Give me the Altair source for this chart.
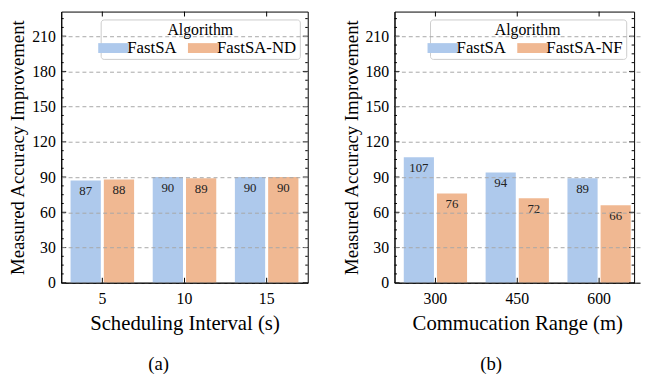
import altair as alt
import pandas as pd
import numpy as np

# ---- data ----
left_categories = ["5", "10", "15"]
left_fastsa = [87, 90, 90]
left_fastsa_nd = [88, 89, 90]
left_names = ["FastSA", "FastSA-ND"]

right_categories = ["300", "450", "600"]
right_fastsa = [107, 94, 89]
right_fastsa_nf = [76, 72, 66]
right_names = ["FastSA", "FastSA-NF"]

y_major = [0, 30, 60, 90, 120, 150, 180, 210]
y_minor = [float(v) for v in np.arange(0, 231, 7.5) if v % 30 != 0]

FONT = "Liberation Serif"
BLUE = "#aec9ec"
ORANGE = "#f0b892"
H = 275


def panel(cats, a, b, names, xtitle, sub, width, xrange):
    df = pd.DataFrame({
        "cat": cats * 2,
        "algo": [names[0]] * len(cats) + [names[1]] * len(cats),
        "value": a + b,
    })
    xenc = alt.X("cat:N", sort=cats,
                 scale=alt.Scale(paddingInner=0, paddingOuter=0, range=[0, xrange]),
                 axis=alt.Axis(title=xtitle, labelAngle=0, tickSize=0, labelPadding=8,
                               domain=True, domainColor="black", domainWidth=1,
                               titlePadding=6, zindex=1, labelFont=FONT, titleFont=FONT,
                               labelFontSize=16, titleFontSize=21, titleFontWeight="normal"))
    yenc = alt.Y("value:Q",
                 scale=alt.Scale(domain=[0, 231], nice=False, zero=True),
                 axis=alt.Axis(title="Measured Accuracy Improvement", values=y_major,
                               labelOverlap=False,
                               grid=True, gridDash=[4, 3], gridColor="#a8a8a8", gridWidth=1,
                               tickSize=0, labelPadding=6, domain=True, domainColor="black",
                               domainWidth=1, titlePadding=4, zindex=1, labelFont=FONT,
                               titleFont=FONT, labelFontSize=16, titleFontSize=19,
                               titleFontWeight="normal"))
    xoff = alt.XOffset("algo:N", sort=names,
                       scale=alt.Scale(domain=names, paddingInner=0.09, paddingOuter=0.28))
    bars = alt.Chart(df).mark_bar().encode(
        x=xenc, xOffset=xoff, y=yenc,
        color=alt.Color("algo:N", sort=names,
                        scale=alt.Scale(domain=names, range=[BLUE, ORANGE]),
                        legend=alt.Legend(title="Algorithm", orient="top-right", offset=8,
                                          direction="horizontal", titleAnchor="middle",
                                          symbolType="M-1.55,-0.5H1.55V0.5H-1.55Z",
                                          symbolSize=400, symbolStrokeWidth=0,
                                          symbolOpacity=1,
                                          fillColor="white", strokeColor="#cccccc",
                                          cornerRadius=3, padding=3, columnPadding=10,
                                          labelOffset=4, titlePadding=0,
                                          labelFont=FONT, titleFont=FONT,
                                          labelFontSize=17, titleFontSize=16,
                                          titleFontWeight="normal")),
    )
    labels = alt.Chart(df).mark_text(baseline="top", dy=5, font=FONT, fontSize=13,
                                     color="#222222").encode(
        x=xenc, xOffset=xoff, y=yenc, text="value:Q")

    ymaj = pd.DataFrame({"value": y_major})
    ymin = pd.DataFrame({"value": y_minor})
    xt = pd.DataFrame({"cat": cats})
    rules = []
    for d, ln in ((ymaj, 5), (ymin, 2.5)):
        rules.append(alt.Chart(d).mark_rule(color="black", strokeWidth=1).encode(
            y=yenc, x=alt.value(0), x2=alt.value(ln)))
        rules.append(alt.Chart(d).mark_rule(color="black", strokeWidth=1).encode(
            y=yenc, x=alt.value(width), x2=alt.value(width - ln)))
    rules.append(alt.Chart(xt).mark_rule(color="black", strokeWidth=1).encode(
        x=xenc, y=alt.value(H), y2=alt.value(H - 5)))
    rules.append(alt.Chart(xt).mark_rule(color="black", strokeWidth=1).encode(
        x=xenc, y=alt.value(0), y2=alt.value(5)))

    return alt.layer(bars, labels, *rules).properties(
        width=width, height=H,
        title=alt.TitleParams(sub, orient="bottom", anchor="middle", frame="bounds",
                              fontSize=19, font=FONT, fontWeight="normal", offset=23),
    )


left = panel(left_categories, left_fastsa, left_fastsa_nd, left_names,
             "Scheduling Interval (s)", "(a)", 250, 250)
right = panel(right_categories, right_fastsa, right_fastsa_nf, right_names,
              "Commucation Range (m)", "(b)", 243, 249)

chart = alt.hconcat(left, right, spacing=33).resolve_scale(
    color="independent", x="independent", y="independent", xOffset="independent"
).resolve_legend(color="independent").properties(
    padding={"left": 0, "top": 0, "right": 0, "bottom": 0}
).configure(font=FONT).configure_view(stroke="black", strokeWidth=1)

chart.save("out.html", embed_options={"renderer": "svg", "actions": False})
